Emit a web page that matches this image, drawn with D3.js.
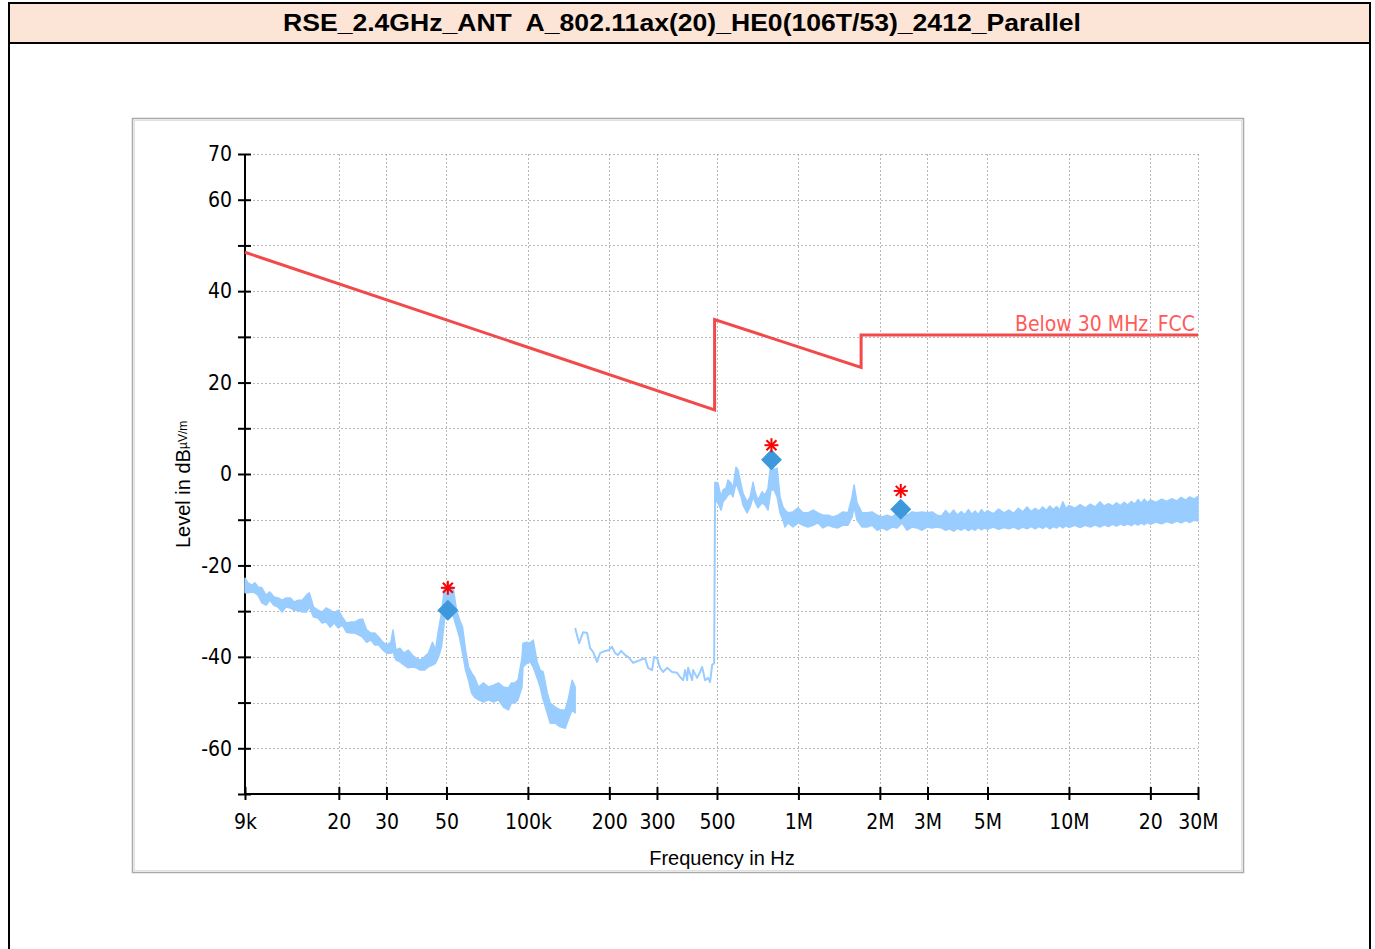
<!DOCTYPE html>
<html>
<head>
<meta charset="utf-8">
<script src="https://cdn.jsdelivr.net/npm/d3@7"></script>
<style>
html,body{margin:0;padding:0;background:#fff;}
svg{display:block;}
</style>
</head>
<body>
<svg id="chart" width="1375" height="949"></svg>
<script>
// ---------- data ----------
const titleText = "RSE_2.4GHz_ANT  A_802.11ax(20)_HE0(106T/53)_2412_Parallel";
const xTickValues = [9e3, 2e4, 3e4, 5e4, 1e5, 2e5, 3e5, 5e5, 1e6, 2e6, 3e6, 5e6, 1e7, 2e7, 3e7];
const xTickLabels = ["9k", "20", "30", "50", "100k", "200", "300", "500", "1M", "2M", "3M", "5M", "10M", "20", "30M"];
const yTickValues = [70, 60, 50, 40, 30, 20, 10, 0, -10, -20, -30, -40, -50, -60, -70];
const yLabelValues = [70, 60, 40, 20, 0, -20, -40, -60];

// limit line (Hz, dBuV/m)
const limitFreq = [9e3, 490e3, 490e3, 1.705e6, 1.705e6, 30e6];
const limitLevel = [48.5, 14.0, 33.8, 23.3, 30.4, 30.4];
const limitName = "Below 30 MHz_FCC";

// trace segment A: 9 kHz - 150 kHz (kHz, upper/lower envelope dB)
const aFreq = [9.0, 9.23, 9.55, 9.79, 10.05, 10.39, 10.76, 11.12, 11.51, 11.92, 12.34, 12.77, 13.22, 13.68, 14.16, 14.66, 15.18, 15.57, 16.12, 16.76, 17.35, 17.95, 18.58, 19.24, 19.91, 20.61, 21.33, 22.08, 22.86, 23.65, 24.48, 25.34, 26.24, 27.16, 28.11, 29.10, 30.12, 31.18, 31.71, 32.54, 33.67, 34.86, 36.09, 37.36, 38.67, 40.03, 41.42, 42.88, 44.39, 45.54, 46.73, 47.94, 49.18, 50.46, 51.77, 53.10, 54.47, 55.89, 57.33, 58.82, 60.34, 61.9, 63.46, 65.65, 68.51, 71.49, 74.59, 77.83, 81.21, 84.74, 86.93, 89.58, 91.91, 95.09, 95.9, 99.2, 101.8, 104.6, 108.2, 111.0, 113.9, 117.9, 120.9, 126.2, 131.7, 137.4, 140.9, 145.8, 149.5];
const aHi = [-22.8, -23.8, -24.3, -23.8, -24.7, -24.9, -26.5, -25.8, -26.9, -27.1, -27.6, -27.1, -27.1, -28.0, -27.6, -27.6, -26.5, -26.0, -29.1, -29.8, -30.2, -29.3, -29.8, -30.4, -29.8, -31.3, -32.6, -32.4, -32.4, -31.9, -31.7, -34.1, -34.8, -34.8, -35.7, -36.8, -37.4, -36.8, -34.1, -38.5, -38.1, -39.2, -38.5, -39.6, -40.3, -40.7, -40.0, -39.2, -36.8, -38.5, -34.1, -30.4, -24.7, -24.3, -24.3, -25.4, -29.8, -31.9, -33.5, -38.5, -42.2, -43.5, -44.4, -46.6, -45.7, -46.6, -46.2, -45.7, -46.6, -46.8, -45.7, -45.7, -45.1, -40.3, -37.0, -36.8, -37.0, -36.3, -41.1, -42.9, -43.3, -47.9, -50.1, -51.0, -51.6, -51.6, -49.4, -45.1, -46.6];
const aLo = [-26.0, -26.0, -25.8, -26.0, -26.5, -28.2, -28.7, -27.6, -28.7, -29.1, -30.2, -29.1, -29.3, -29.8, -29.8, -30.2, -30.2, -29.1, -31.3, -31.5, -32.6, -32.4, -33.5, -32.6, -33.7, -33.0, -34.6, -34.8, -34.8, -35.2, -35.7, -36.8, -36.3, -37.4, -37.4, -38.5, -39.2, -39.2, -38.9, -40.7, -41.1, -41.8, -42.4, -42.2, -42.4, -42.9, -42.9, -42.2, -41.8, -41.4, -40.0, -37.8, -31.9, -29.8, -29.8, -31.3, -33.5, -35.7, -39.2, -42.9, -45.1, -47.9, -48.8, -49.4, -49.9, -49.4, -49.9, -49.4, -51.0, -51.6, -50.1, -50.1, -49.4, -46.6, -42.2, -41.4, -41.1, -42.2, -44.6, -46.6, -49.4, -52.3, -54.5, -54.5, -55.3, -55.6, -53.8, -51.6, -52.3];

// trace segment B: 150 kHz - 490 kHz (kHz, dB)
const bFreq = [149.5, 154.7, 160.0, 165.6, 169.8, 174.2, 180.2, 184.8, 192.9, 199.5, 204.7, 210.0, 215.5, 221.1, 228.8, 234.7, 245.0, 259.9, 271.2, 278.2, 287.8, 292.8, 300.3, 308.1, 316.0, 327.0, 341.3, 356.2, 365.3, 374.8, 381.2, 387.8, 391.1, 404.6, 408.1, 422.2, 433.1, 440.6, 451.9, 463.6, 471.6, 479.8, 488.1, 492.0];
const bLevel = [-33.7, -37.0, -34.6, -34.8, -38.1, -38.9, -41.1, -39.2, -38.7, -38.5, -37.8, -39.2, -39.6, -38.7, -39.6, -40.0, -41.3, -40.7, -40.3, -42.4, -42.9, -40.0, -40.3, -42.4, -43.3, -42.4, -43.3, -43.5, -44.4, -45.1, -42.9, -45.1, -42.4, -45.1, -42.9, -44.6, -43.3, -42.2, -45.1, -44.6, -45.5, -41.8, -41.4, -1.8];

// trace segment C: 490 kHz - 30 MHz (kHz, upper/lower envelope dB)
const cFreq = [494, 504.5, 517.6, 526.5, 540, 549, 563.6, 573, 588, 598, 614, 624, 646, 663, 680, 691, 709, 734, 753, 772, 792, 813, 834, 855, 877, 892, 915, 955, 997, 1040, 1085, 1133, 1182, 1233, 1287, 1343, 1401, 1462, 1525, 1579, 1606, 1647, 1719, 1794, 1872, 1953, 2038, 2126, 2219, 2316, 2416, 2521, 2630, 2745, 2864, 2989, 3119, 3254,
  3380, 3500, 3620, 3750, 3870, 4000, 4120, 4250, 4370, 4500, 4620, 4750, 4870, 5000, 5250, 5500, 5750, 6000, 6250, 6500, 6750, 7000, 7250, 7500, 7750, 8000, 8250, 8500, 8750, 9000, 9250, 9500, 9750, 10000, 10500, 11000, 11500, 12000, 12500, 13000, 13500, 14000, 14500, 15000, 15500, 16000, 16500, 17000, 17500, 18000, 18500, 19000, 19500, 20000, 21000, 22000, 23000, 24000, 25000, 26000, 27000, 28000, 29000, 30000];
const cHi = [-1.8, -2.0, -5.0, -3.5, -3.1, -1.3, -2.0, -3.1, 1.5, 0.9, -2.4, -4.2, -6.1, -5.0, -1.8, -3.9, -5.7, -3.9, -4.6, -3.1, 2.6, 0.9, 1.3, -5.0, -7.2, -7.9, -8.5, -8.3, -7.4, -8.5, -8.5, -7.9, -8.5, -9.0, -9.0, -9.4, -9.0, -8.3, -8.5, -5.0, -2.4, -6.3, -8.5, -8.5, -8.3, -9.0, -9.4, -9.0, -9.4, -8.5, -7.2, -9.0, -8.3, -8.5, -8.3, -8.5, -8.3, -9.0,
  -9.2, -8.0, -8.9, -7.9, -9.0, -8.2, -8.9, -7.8, -8.8, -8.1, -8.9, -7.8, -8.6, -8.0, -8.7, -7.7, -8.5, -7.9, -8.6, -7.5, -8.3, -7.2, -8.2, -7.5, -8.1, -7.2, -8.0, -7.0, -7.8, -7.1, -7.9, -6.1, -7.6, -6.9, -7.5, -6.7, -7.4, -6.6, -7.2, -6.1, -7.0, -6.5, -7.0, -6.3, -6.9, -6.2, -6.8, -6.0, -6.6, -5.6, -6.4, -5.5, -6.3, -5.7, -6.2, -5.5, -6.0, -5.4, -5.9, -5.1, -5.7, -5.0, -5.5, -4.9];
const cLo = [-6.0, -6.3, -7.9, -6.1, -5.3, -4.6, -4.2, -5.0, -2.0, -3.1, -5.0, -6.8, -8.5, -7.2, -5.0, -6.1, -7.4, -6.3, -6.8, -7.9, -3.5, -3.5, -5.0, -8.5, -10.1, -11.6, -10.7, -11.6, -10.7, -11.2, -11.6, -11.2, -10.7, -11.8, -11.2, -11.6, -11.8, -11.2, -11.2, -9.4, -7.2, -10.1, -11.6, -11.6, -11.2, -12.3, -11.8, -12.3, -11.6, -11.8, -10.7, -12.3, -11.6, -11.8, -12.3, -11.6, -11.8, -11.6,
  -11.8, -12.3, -12.0, -12.5, -11.9, -12.3, -11.8, -12.4, -11.9, -12.3, -11.7, -12.2, -11.8, -12.1, -11.6, -12.1, -11.7, -12.0, -11.6, -12.1, -11.6, -12.0, -11.5, -12.0, -11.5, -11.9, -11.4, -12.0, -11.5, -11.8, -11.3, -11.8, -11.3, -11.7, -11.2, -11.7, -11.2, -11.6, -11.1, -11.6, -11.1, -11.5, -11.0, -11.4, -10.9, -11.3, -10.9, -11.3, -10.8, -11.2, -10.7, -11.1, -10.6, -11.0, -10.5, -10.9, -10.4, -10.8, -10.3, -10.7, -10.2, -10.6, -10.1, -10.3];

// final measurement markers
const markFreq = [50.6e3, 795e3, 2.39e6];
const qpLevel = [-29.8, 3.1, -7.7];   // diamonds
const pkLevel = [-24.9, 6.3, -3.7];   // asterisks

// ---------- drawing ----------
const svg = d3.select("#chart");
const narrow = "'Liberation Sans Narrow','Arial Narrow','DejaVu Sans Condensed',sans-serif";
const sans = "'Liberation Sans',Arial,sans-serif";

// outer frame and title bar
svg.append("rect").attr("x", 9).attr("y", 3).attr("width", 1361).attr("height", 40)
  .attr("fill", "#fce4d6").attr("stroke", "#000").attr("stroke-width", 2);
svg.append("line").attr("x1", 9).attr("x2", 9).attr("y1", 43).attr("y2", 949).attr("stroke", "#000").attr("stroke-width", 2);
svg.append("line").attr("x1", 1370).attr("x2", 1370).attr("y1", 43).attr("y2", 949).attr("stroke", "#000").attr("stroke-width", 2);
svg.append("text").attr("x", 682).attr("y", 31).attr("text-anchor", "middle")
  .attr("font-family", sans).attr("font-weight", "bold").attr("font-size", 23)
  .attr("textLength", 798).attr("lengthAdjust", "spacingAndGlyphs")
  .attr("xml:space", "preserve").style("white-space", "pre").text(titleText);

// chart panel
svg.append("rect").attr("x", 132.5).attr("y", 118.5).attr("width", 1111).attr("height", 754)
  .attr("fill", "#fff").attr("stroke", "#a9a9a9").attr("stroke-width", 1.5);
svg.append("rect").attr("x", 134.5).attr("y", 120.5).attr("width", 1107).attr("height", 750)
  .attr("fill", "none").attr("stroke", "#e0e0e0").attr("stroke-width", 1);

// scales
const x = d3.scaleLog().domain([9e3, 3e7]).range([245, 1198]);
const y = d3.scaleLinear().domain([-70, 70]).range([794, 154]);

// grid
const grid = svg.append("g").attr("stroke", "#b8b8b8").attr("stroke-width", 1).attr("stroke-dasharray", "2,2");
grid.selectAll("line.h").data(yTickValues.filter(v => v > -70)).join("line")
  .attr("x1", 245).attr("x2", 1198).attr("y1", d => Math.round(y(d)) + 0.5).attr("y2", d => Math.round(y(d)) + 0.5);
grid.selectAll("line.v").data(xTickValues.slice(1)).join("line")
  .attr("x1", d => Math.round(x(d)) + 0.5).attr("x2", d => Math.round(x(d)) + 0.5).attr("y1", 154).attr("y2", 794);

// axes
const xAxis = d3.axisBottom(x).tickValues(xTickValues).tickFormat((d, i) => xTickLabels[i]).tickSize(6).tickPadding(14);
const gx = svg.append("g").attr("transform", "translate(0,794)").call(xAxis);
gx.select(".domain").attr("d", "M245,0H1198").attr("stroke", "#000").attr("stroke-width", 2);
gx.selectAll(".tick line").attr("y1", -7).attr("y2", 6).attr("stroke", "#000").attr("stroke-width", 2);
gx.selectAll(".tick text").attr("font-family", narrow).attr("font-size", 21).attr("fill", "#000").attr("dy", "0.71em").attr("y", 20);

const yAxis = d3.axisLeft(y).tickValues(yTickValues).tickFormat(d => yLabelValues.includes(d) ? String(d) : "").tickSize(7).tickPadding(7);
const gy = svg.append("g").attr("transform", "translate(245,0)").call(yAxis);
gy.select(".domain").attr("d", "M0,154V794").attr("stroke", "#000").attr("stroke-width", 2);
gy.selectAll(".tick line").attr("x1", -7).attr("x2", 6).attr("stroke", "#000").attr("stroke-width", 2);
gy.selectAll(".tick text").attr("font-family", narrow).attr("font-size", 21).attr("fill", "#000").attr("x", -13);

// axis titles
svg.append("text").attr("x", 722).attr("y", 865).attr("text-anchor", "middle")
  .attr("font-family", sans).attr("font-size", 20).attr("fill", "#000").text("Frequency in Hz");
const yt = svg.append("text").attr("transform", "translate(190,548) rotate(-90)")
  .attr("font-family", sans).attr("font-size", 20).attr("fill", "#000");
yt.append("tspan").text("Level in dB");
yt.append("tspan").attr("font-size", 12).attr("dy", -3).text("µV/m");

// trace
const traceColor = "#99ccff";
const segA = aFreq.map((f, i) => ({ f: f * 1e3, hi: aHi[i], lo: aLo[i] }));
const segB = bFreq.map((f, i) => ({ f: f * 1e3, v: bLevel[i] }));
const segC = cFreq.map((f, i) => ({ f: f * 1e3, hi: cHi[i], lo: cLo[i] }));
const area = d3.area().x(d => x(d.f)).y0(d => y(d.lo)).y1(d => y(d.hi));
const line = d3.line().x(d => x(d.f)).y(d => y(d.v));
[segA, segC].forEach(seg => {
  svg.append("path").attr("d", area(seg)).attr("fill", traceColor)
    .attr("stroke", traceColor).attr("stroke-width", 1.5).attr("stroke-linejoin", "round");
});
svg.append("path").attr("d", line(segB)).attr("fill", "none")
  .attr("stroke", traceColor).attr("stroke-width", 2).attr("stroke-linejoin", "round");

// limit line
const limitData = limitFreq.map((f, i) => ({ f, v: limitLevel[i] }));
svg.append("path").attr("d", line(limitData)).attr("fill", "none")
  .attr("stroke", "#f24a4a").attr("stroke-width", 3);
svg.append("text").attr("x", 1195).attr("y", 331).attr("text-anchor", "end")
  .attr("font-family", narrow).attr("font-size", 21).attr("fill", "#ff5a5a").text(limitName);

// markers
svg.selectAll("path.qp").data(markFreq).join("path")
  .attr("d", d3.symbol().type(d3.symbolSquare).size(220)())
  .attr("transform", (d, i) => `translate(${x(d)},${y(qpLevel[i])}) rotate(45)`)
  .attr("fill", "#3d98dc");
const star = svg.selectAll("g.pk").data(markFreq).join("g")
  .attr("transform", (d, i) => `translate(${x(d)},${y(pkLevel[i])})`);
[[0, -7, 0, 7], [-7, 0, 7, 0], [-5, -5, 5, 5], [-5, 5, 5, -5]].forEach(s => {
  star.append("line").attr("x1", s[0]).attr("y1", s[1]).attr("x2", s[2]).attr("y2", s[3])
    .attr("stroke", "#ff0000").attr("stroke-width", 2);
});
</script>
</body>
</html>
